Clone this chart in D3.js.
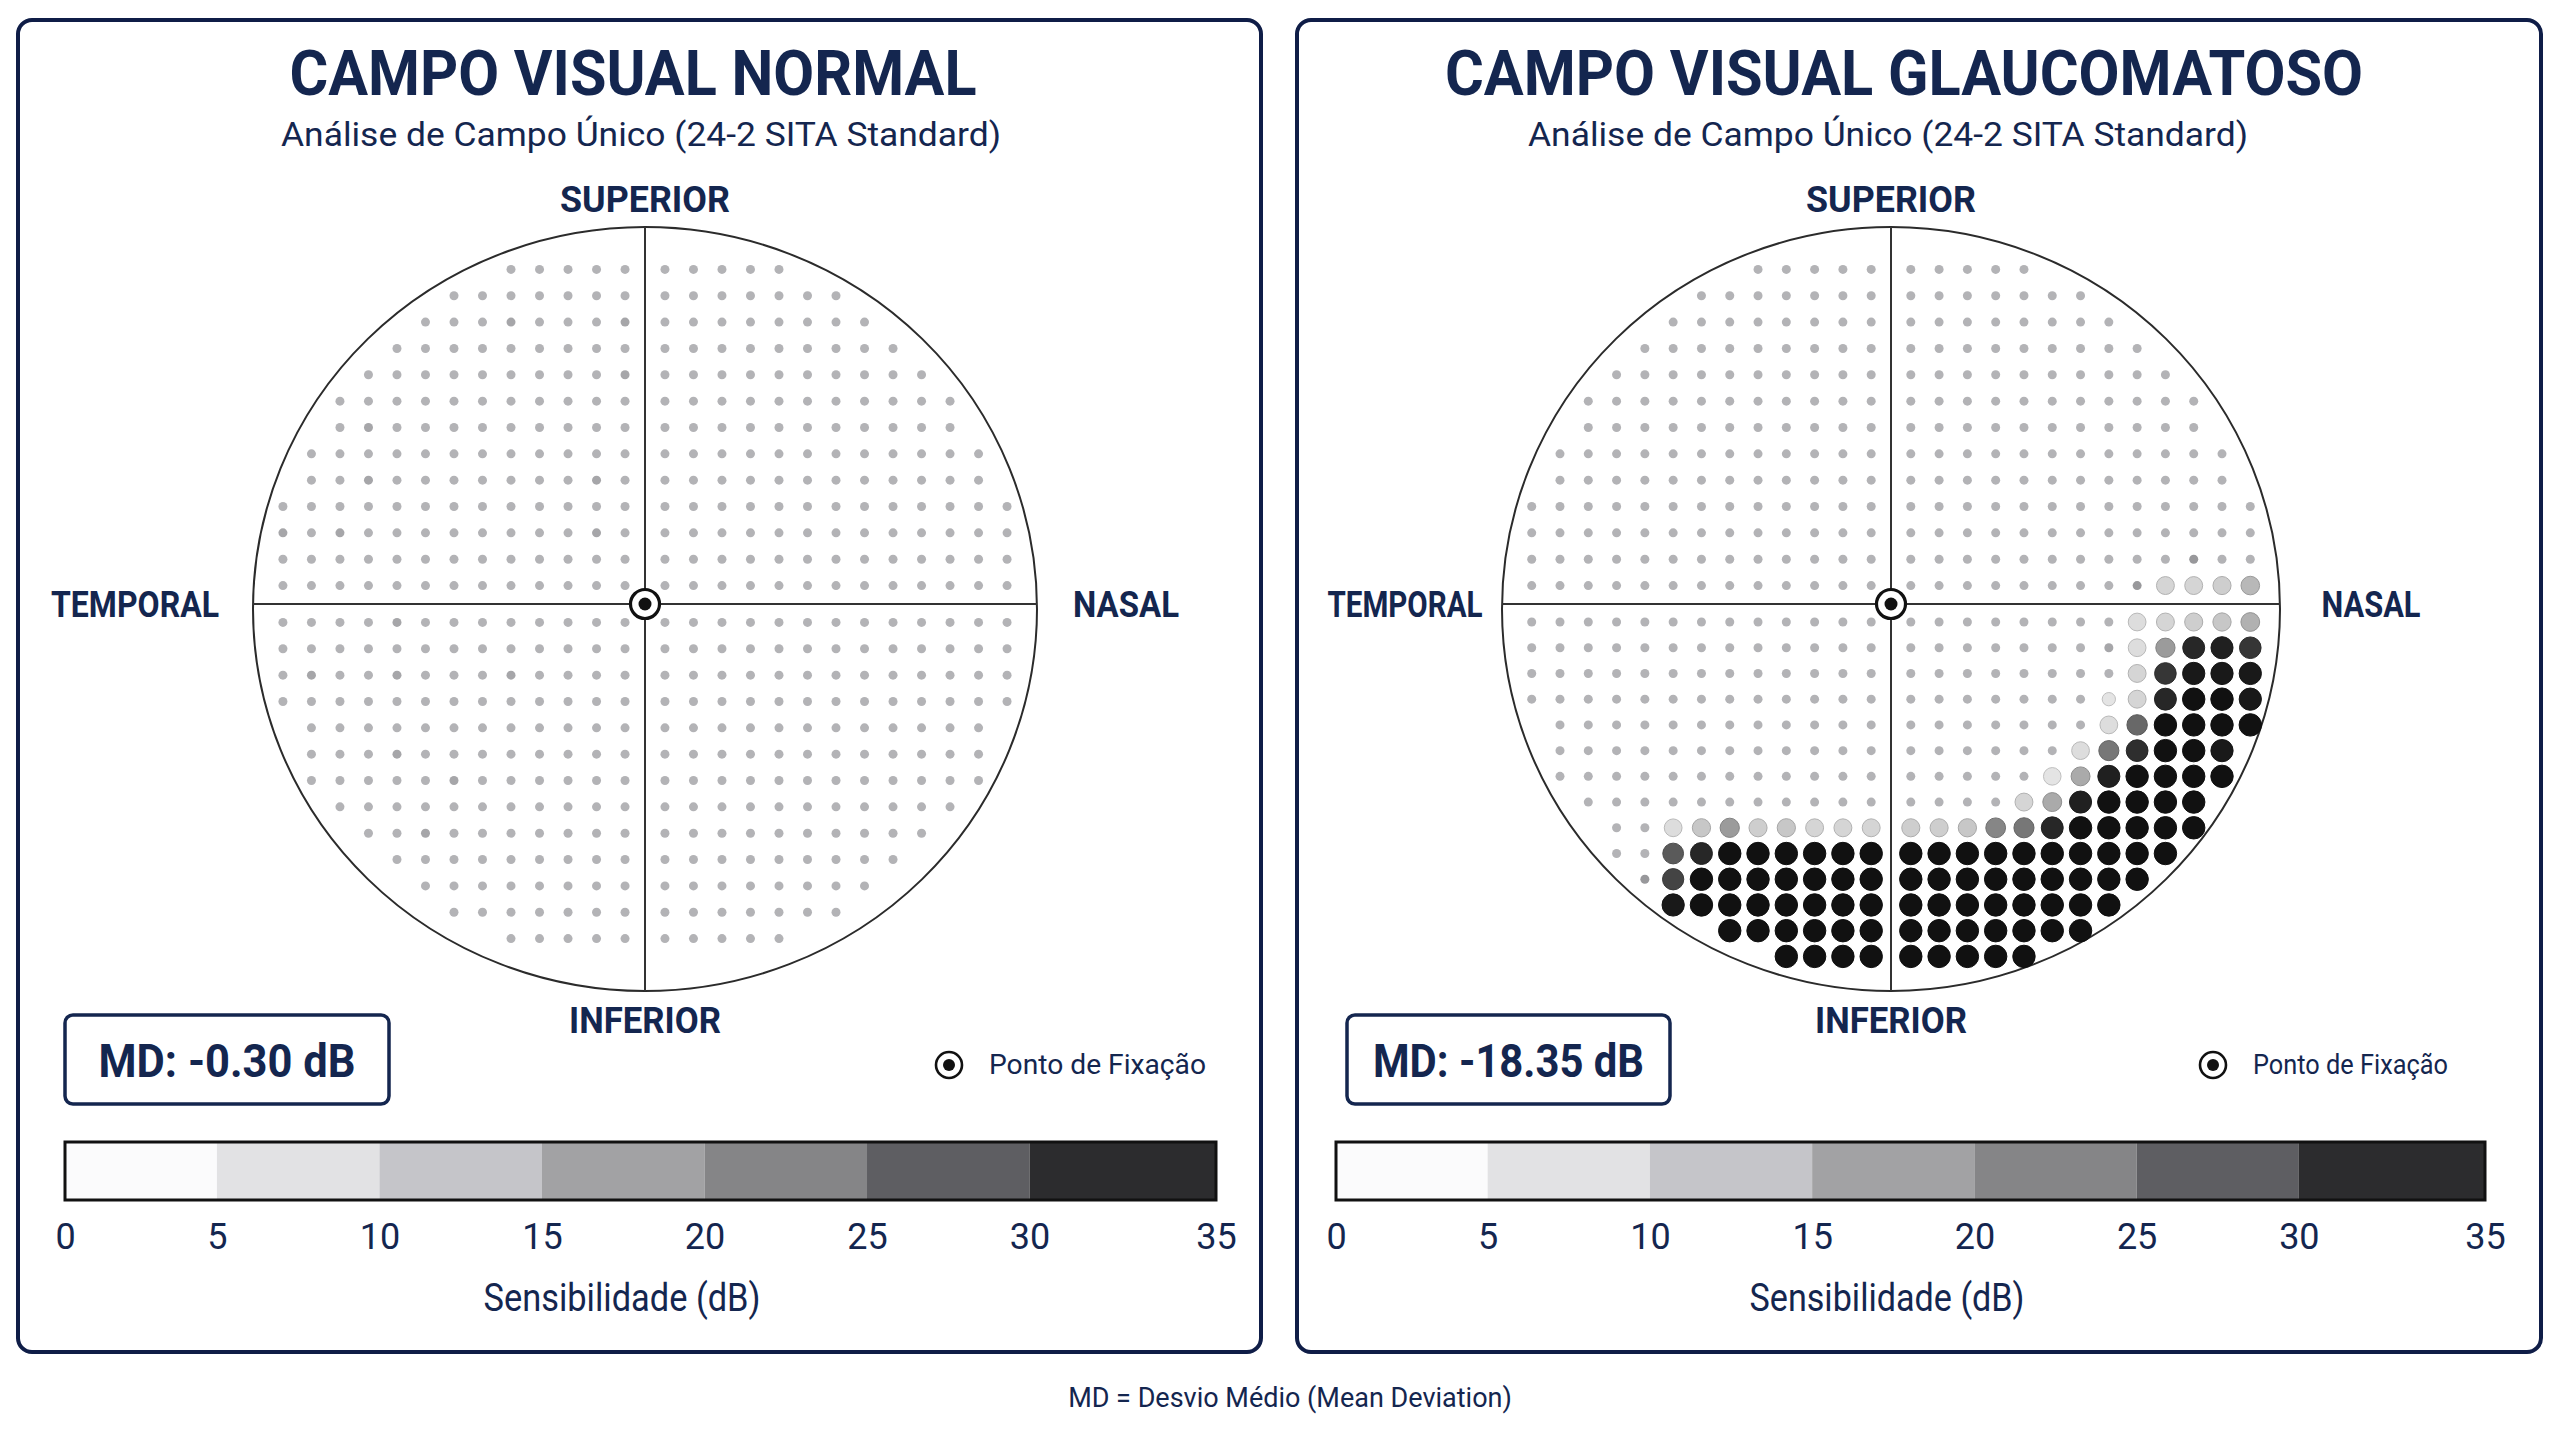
<!DOCTYPE html>
<html>
<head>
<meta charset="utf-8">
<script src="https://cdn.jsdelivr.net/npm/d3@7"></script>
<style>
body { margin: 0; background: #ffffff; }
</style>
</head>
<body>
<div id="chart-area"></div>
<script>
/*
*    Campo visual 24-2: normal vs glaucomatoso
*/

var _ = null

// textos
var titles = ["CAMPO VISUAL NORMAL", "CAMPO VISUAL GLAUCOMATOSO"]
var subtitle = "Análise de Campo Único (24-2 SITA Standard)"
var mdValues = [-0.30, -18.35]
var scaleTicks = [0, 5, 10, 15, 20, 25, 30, 35]
var scaleColors = ["#fbfbfc", "#e2e2e4", "#c5c5c9", "#a2a2a4", "#858587", "#5e5e62", "#2c2c2e"]

// posicoes dos pontos de teste (graus)
var colDeg = [-25.4, -23.4, -21.4, -19.4, -17.4, -15.4, -13.4, -11.4, -9.4, -7.4, -5.4, -3.4, -1.4,
	1.4, 3.4, 5.4, 7.4, 9.4, 11.4, 13.4, 15.4, 17.4, 19.4, 21.4, 23.4, 25.4]
var rowDegUpper = [25.4, 23.4, 21.4, 19.4, 17.4, 15.4, 13.4, 11.4, 9.4, 7.4, 5.4, 3.4, 1.4]
var rowDegLower = [-1.4, -3.4, -5.4, -7.4, -9.4, -11.4, -13.4, -15.4, -17.4, -19.4, -21.4, -23.4, -25.4, -27.4]

// perda (dB) por ponto - olho normal
var normalUpper = [
	[_,_,_,_,_,_,_,_,0,0,0,0,0, 0,0,0,0,0,_,_,_,_,_,_,_,_],
	[_,_,_,_,_,_,0,0,0,0,0,0,0, 0,0,0,0,0,0,0,_,_,_,_,_,_],
	[_,_,_,_,_,0,0,0,1,0,0,0,1, 0,0,0,0,0,0,0,0,_,_,_,_,_],
	[_,_,_,_,0,0,0,0,0,0,0,0,0, 0,0,0,0,0,0,0,0,0,_,_,_,_],
	[_,_,_,0,0,0,0,0,0,0,0,0,1, 0,0,0,0,0,0,0,0,0,0,_,_,_],
	[_,_,0,0,0,0,0,0,0,0,0,0,0, 0,0,0,0,0,0,0,0,0,0,0,_,_],
	[_,_,0,1,0,0,0,0,0,0,0,0,0, 0,0,0,0,0,0,0,0,0,0,0,_,_],
	[_,0,0,0,0,0,0,0,0,0,0,0,0, 0,0,0,0,0,0,0,0,0,0,0,0,_],
	[_,0,0,1,0,0,0,0,0,0,0,1,0, 0,0,0,0,0,0,0,0,0,0,0,0,_],
	[0,0,0,0,0,0,0,0,0,0,0,0,0, 0,0,0,0,0,0,0,0,0,0,0,0,0],
	[1,0,1,0,0,0,0,0,0,0,0,1,0, 0,0,0,0,0,0,0,0,0,0,0,0,0],
	[0,0,0,0,0,0,0,0,0,0,0,0,0, 0,0,0,0,0,0,0,0,0,0,0,0,0],
	[0,0,0,0,0,0,0,0,0,0,0,0,0, 0,0,0,0,0,0,0,0,0,0,0,0,0]
]
var normalLower = [
	[0,0,0,0,1,0,0,0,0,0,0,0,0, 0,0,0,0,0,0,0,0,0,0,0,0,0],
	[0,0,0,0,0,0,0,0,0,0,0,0,0, 0,0,0,0,0,0,0,0,0,0,0,0,0],
	[0,1,0,0,1,0,0,0,1,0,0,0,0, 0,0,0,0,0,0,0,0,0,0,0,0,0],
	[0,0,0,0,0,0,0,0,0,0,0,0,0, 0,0,0,0,0,0,0,0,0,0,0,0,0],
	[_,0,0,0,0,0,0,0,0,0,0,0,0, 0,0,0,0,0,0,0,0,0,0,0,0,_],
	[_,0,0,0,1,0,0,0,0,0,0,0,0, 0,0,0,0,0,0,0,0,0,0,0,0,_],
	[_,0,0,0,0,0,1,0,0,0,0,0,0, 0,0,0,0,0,0,0,0,0,0,0,0,_],
	[_,_,0,0,0,0,0,0,0,0,0,0,0, 0,0,0,0,0,0,0,0,0,0,0,_,_],
	[_,_,_,0,0,1,0,0,0,0,0,0,0, 0,0,0,0,0,0,0,0,0,0,_,_,_],
	[_,_,_,_,0,0,0,0,0,0,0,0,0, 0,0,0,0,0,0,0,0,0,_,_,_,_],
	[_,_,_,_,_,0,0,0,0,0,0,0,0, 0,0,0,0,0,0,0,0,_,_,_,_,_],
	[_,_,_,_,_,_,0,0,0,0,0,0,0, 0,0,0,0,0,0,0,_,_,_,_,_,_],
	[_,_,_,_,_,_,_,_,0,0,0,0,0, 0,0,0,0,0,_,_,_,_,_,_,_,_]
]

// perda (dB) por ponto - olho glaucomatoso
var glaucUpper = [
	[_,_,_,_,_,_,_,_,0,0,0,0,0, 0,0,0,0,0,_,_,_,_,_,_,_,_],
	[_,_,_,_,_,_,0,0,0,0,0,0,0, 0,0,0,0,0,0,0,_,_,_,_,_,_],
	[_,_,_,_,_,0,0,0,0,0,0,0,0, 0,0,0,0,0,0,0,0,_,_,_,_,_],
	[_,_,_,_,0,0,0,0,0,0,0,0,0, 0,0,0,0,0,0,0,0,0,_,_,_,_],
	[_,_,_,0,0,0,0,0,0,0,0,0,0, 0,0,0,0,0,0,0,0,0,0,_,_,_],
	[_,_,0,0,0,0,0,0,0,0,0,0,0, 0,0,0,0,0,0,0,0,0,0,0,_,_],
	[_,_,0,0,0,0,0,0,0,0,0,0,0, 0,0,0,0,0,0,0,0,0,0,0,_,_],
	[_,0,0,0,0,0,0,0,0,0,0,0,0, 0,0,0,0,0,0,0,0,0,0,0,0,_],
	[_,0,0,0,0,0,0,0,0,0,0,0,0, 0,0,0,0,0,0,0,0,0,0,0,0,_],
	[0,0,0,0,0,0,0,0,0,0,0,0,0, 0,0,0,0,0,0,0,0,0,0,0,0,0],
	[0,0,0,0,0,0,0,0,0,0,0,0,0, 0,0,0,0,0,0,0,0,0,0,0,0,0],
	[0,0,0,0,0,0,0,0,0,0,0,0,0, 0,0,0,0,0,0,0,0,0,0,2,0,0],
	[0,0,0,0,0,0,0,0,0,0,0,0,0, 0,0,0,0,0,0,0,0,2,7,7,8,11]
]
var glaucLower = [
	[0,0,0,0,0,0,0,0,0,0,0,0,0, 0,0,0,0,0,0,0,0,6,7,8,9,12],
	[0,0,0,0,0,0,0,0,0,0,0,0,0, 0,0,0,0,0,0,0,1,6,15,31,32,29],
	[0,0,0,0,0,0,0,0,0,0,0,0,0, 0,0,0,0,0,0,0,0,7,29,33,33,33],
	[0,0,0,0,0,0,0,0,0,0,0,0,0, 0,0,0,0,0,0,0,4,7,31,34,34,33],
	[_,0,0,0,0,0,0,0,0,0,0,0,0, 0,0,0,0,0,0,0,6,22,34,34,34,34],
	[_,0,0,0,0,0,0,0,0,0,0,0,0, 0,0,0,0,0,0,6,20,30,34,34,33,_],
	[_,0,0,0,0,0,0,0,0,0,0,0,0, 0,0,0,0,0,5,13,32,34,34,34,34,_],
	[_,_,0,0,0,0,0,0,0,0,0,0,0, 0,0,0,0,7,13,32,34,34,34,34,_,_],
	[_,_,_,0,0,6,9,15,8,9,7,7,7, 8,8,9,18,20,31,34,34,34,34,34,_,_],
	[_,_,_,0,0,24,31,34,34,34,34,34,34, 34,34,34,34,34,34,34,34,34,34,_,_,_],
	[_,_,_,_,2,27,34,34,34,34,34,34,34, 34,34,34,34,34,34,34,34,34,_,_,_,_],
	[_,_,_,_,_,33,34,34,34,34,34,34,34, 34,34,34,34,34,34,34,34,_,_,_,_,_],
	[_,_,_,_,_,_,_,34,34,34,34,34,34, 34,34,34,34,34,34,34,_,_,_,_,_,_],
	[_,_,_,_,_,_,_,_,_,34,34,34,34, 34,34,34,34,34,_,_,_,_,_,_,_,_]
]

var fields = [
	{ upper: normalUpper, lower: normalLower },
	{ upper: glaucUpper, lower: glaucLower }
]

// layout de cada painel
var layout = [
	{ panelX: 18, panelW: 1243, cx: 645, rx: 392, yLow: -29, titleX: 633, titleW: 687, subX: 641,
		temporalX: 135, temporalW: 168, nasalX: 1126, nasalW: 106,
		mdX: 65, mdW: 324, mdTextW: 257, legendX: 949, legendW: 217, barX: 65, barW: 1151, axisX: 622, axisW: 277 },
	{ panelX: 1297, panelW: 1244, cx: 1891, rx: 389, yLow: -29.7, titleX: 1904, titleW: 918, subX: 1888,
		temporalX: 1405, temporalW: 155, nasalX: 2371, nasalW: 99,
		mdX: 1347, mdW: 323, mdTextW: 271, legendX: 2213, legendW: 195, barX: 1336, barW: 1149, axisX: 1887, axisW: 275 }
]
var fixY = 604, ringY = 609, ringRy = 382

var navy = "#14264f"
var fontMain = "Roboto, 'Liberation Sans', sans-serif"

var svg = d3.select("#chart-area")
	.append("svg")
		.attr("width", 2560)
		.attr("height", 1440)

svg.append("rect")
	.attr("width", 2560)
	.attr("height", 1440)
	.attr("fill", "#ffffff")

// escalas dos pontos
var normalGray = d3.scaleLinear().domain([0, 2]).range(["#b3b3b6", "#98989b"])
var defectGray = d3.scaleLinear().domain([5, 35]).range(["#e4e4e4", "#0a0a0a"]).clamp(true)
var dotR = d3.scaleLinear().domain([0, 3, 5, 35]).range([4.5, 4.5, 8.8, 11.3]).clamp(true)
function dotFill(loss) { return loss < 3 ? normalGray(loss) : defectGray(loss) }

function toPoints(field) {
	var pts = []
	field.upper.forEach((row, i) => {
		row.forEach((v, j) => { if (v !== null) pts.push({ xd: colDeg[j], yd: rowDegUpper[i], loss: v }) })
	})
	field.lower.forEach((row, i) => {
		row.forEach((v, j) => { if (v !== null) pts.push({ xd: colDeg[j], yd: rowDegLower[i], loss: v }) })
	})
	return pts
}

// texto com largura fixa (fonte condensada)
function label(g, txt, x, y, size, w, bold, anchor) {
	var t = g.append("text")
		.attr("x", x)
		.attr("y", y)
		.attr("text-anchor", anchor || "middle")
		.attr("font-family", fontMain)
		.attr("font-weight", bold ? "bold" : "normal")
		.attr("font-size", size + "px")
		.attr("fill", navy)
		.text(txt)
	if (w) t.attr("textLength", w).attr("lengthAdjust", "spacingAndGlyphs")
	return t
}

layout.forEach((L, p) => {
	var g = svg.append("g")

	// moldura
	g.append("rect")
		.attr("x", L.panelX)
		.attr("y", 20)
		.attr("width", L.panelW)
		.attr("height", 1332)
		.attr("rx", 14)
		.attr("fill", "#ffffff")
		.attr("stroke", "#0f1d47")
		.attr("stroke-width", 4)

	label(g, titles[p], L.titleX, 95, 63, L.titleW, true)
	label(g, subtitle, L.subX, 146, 34, 720, false)

	var x = d3.scaleLinear().domain([-27.5, 27.5]).range([L.cx - L.rx, L.cx + L.rx])
	var y = d3.scaleLinear().domain([L.yLow, 0, 29]).range([fixY + 382, fixY, fixY - 382])

	// contorno e eixos
	g.append("ellipse")
		.attr("cx", L.cx)
		.attr("cy", ringY)
		.attr("rx", L.rx)
		.attr("ry", ringRy)
		.attr("fill", "#ffffff")
		.attr("stroke", "#2b2b2b")
		.attr("stroke-width", 2)
	g.append("line")
		.attr("x1", L.cx).attr("x2", L.cx)
		.attr("y1", ringY - ringRy).attr("y2", ringY + ringRy)
		.attr("stroke", "#333").attr("stroke-width", 2)
	g.append("line")
		.attr("x1", L.cx - L.rx).attr("x2", L.cx + L.rx)
		.attr("y1", fixY).attr("y2", fixY)
		.attr("stroke", "#333").attr("stroke-width", 2)

	// pontos
	g.selectAll("circle.pt")
		.data(toPoints(fields[p]))
		.enter()
		.append("circle")
		.attr("class", "pt")
		.attr("cx", d => x(d.xd))
		.attr("cy", d => y(d.yd))
		.attr("r", d => dotR(d.loss))
		.attr("fill", d => dotFill(d.loss))
		.attr("stroke", d => d.loss < 3 ? "none" : d3.color(dotFill(d.loss)).darker(0.5))
		.attr("stroke-width", 1)

	// ponto de fixacao
	g.append("circle")
		.attr("cx", L.cx).attr("cy", fixY).attr("r", 14.5)
		.attr("fill", "#fff").attr("stroke", "#111").attr("stroke-width", 3.2)
	g.append("circle")
		.attr("cx", L.cx).attr("cy", fixY).attr("r", 6.5)
		.attr("fill", "#111")

	// rotulos dos quadrantes
	label(g, "SUPERIOR", L.cx, 212, 37, 170, true)
	label(g, "INFERIOR", L.cx, 1033, 37, 152, true)
	label(g, "TEMPORAL", L.temporalX, 617, 37, L.temporalW, true)
	label(g, "NASAL", L.nasalX, 617, 37, L.nasalW, true)

	// caixa MD
	g.append("rect")
		.attr("x", L.mdX)
		.attr("y", 1015)
		.attr("width", L.mdW)
		.attr("height", 89)
		.attr("rx", 8)
		.attr("fill", "#fff")
		.attr("stroke", navy)
		.attr("stroke-width", 3.5)
	label(g, "MD: " + mdValues[p].toFixed(2) + " dB", L.mdX + L.mdW / 2, 1077, 47, L.mdTextW, true)

	// legenda fixacao
	g.append("circle")
		.attr("cx", L.legendX).attr("cy", 1065).attr("r", 13)
		.attr("fill", "#fff").attr("stroke", "#111").attr("stroke-width", 2.6)
	g.append("circle")
		.attr("cx", L.legendX).attr("cy", 1065).attr("r", 6)
		.attr("fill", "#111")
	label(g, "Ponto de Fixação", L.legendX + 40, 1074, 28, L.legendW, false, "start")

	// barra de escala
	var bx = d3.scaleLinear()
		.domain([0, 5, 30, 35])
		.range([L.barX, L.barX + L.barW * 0.132, L.barX + L.barW * 0.838, L.barX + L.barW])
	g.selectAll("rect.seg")
		.data(scaleColors)
		.enter()
		.append("rect")
		.attr("class", "seg")
		.attr("x", (d, i) => bx(scaleTicks[i]))
		.attr("y", 1142)
		.attr("width", (d, i) => bx(scaleTicks[i + 1]) - bx(scaleTicks[i]))
		.attr("height", 58)
		.attr("fill", d => d)
	g.append("rect")
		.attr("x", L.barX)
		.attr("y", 1142)
		.attr("width", L.barW)
		.attr("height", 58)
		.attr("fill", "none")
		.attr("stroke", "#111")
		.attr("stroke-width", 3)

	var axis = g.append("g")
		.attr("transform", "translate(0," + (1249 - 36 * 0.71) + ")")
		.call(d3.axisBottom(bx).tickValues(scaleTicks).tickSize(0).tickPadding(0))
	axis.select(".domain").remove()
	axis.selectAll("text")
		.attr("font-family", fontMain)
		.attr("font-size", "36px")
		.attr("fill", navy)

	label(g, "Sensibilidade (dB)", L.axisX, 1311, 38, L.axisW, false)
})

label(svg, "MD = Desvio Médio (Mean Deviation)", 1290, 1407, 27, 0, false)
</script>
</body>
</html>
